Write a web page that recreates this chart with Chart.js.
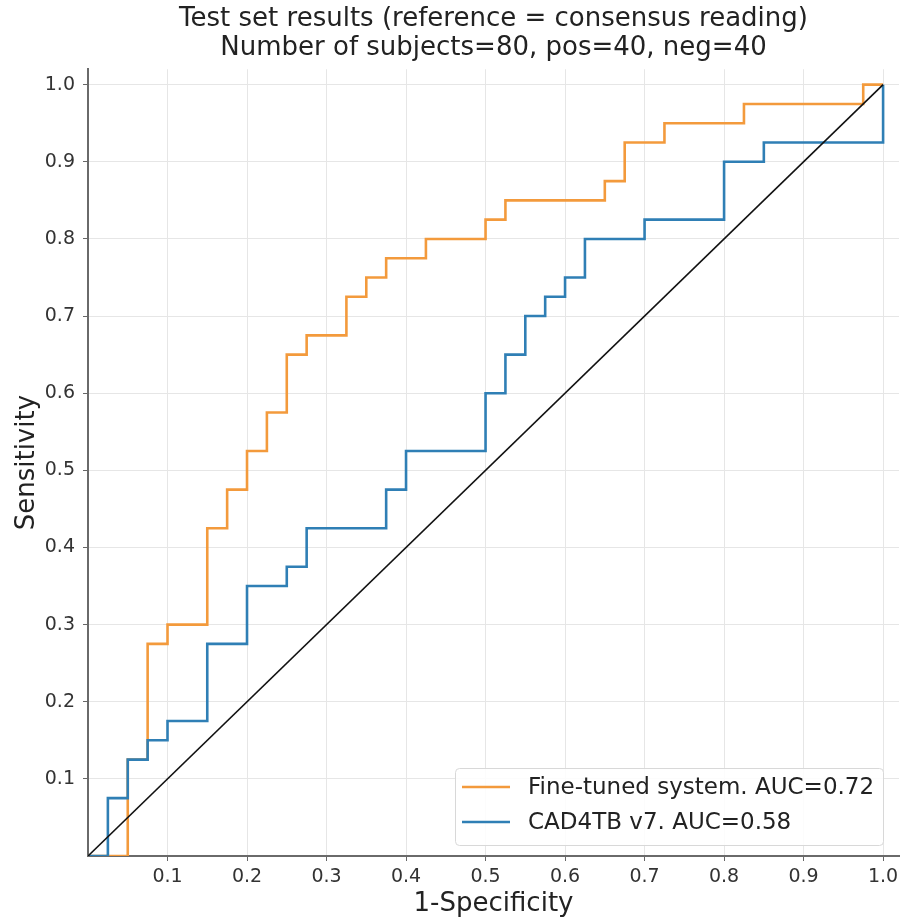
<!DOCTYPE html>
<html>
<head>
<meta charset="utf-8">
<script src="https://cdn.jsdelivr.net/npm/chart.js@4.4.1/dist/chart.umd.min.js"></script>
<style>
  html, body { margin: 0; padding: 0; background: #fff; }
  #wrap { width: 900px; height: 920px; }
</style>
</head>
<body>
<div id="wrap"><canvas id="roc" width="900" height="920"></canvas></div>
<script>
// ROC corners (1-specificity, sensitivity)
const fineFpr = [0, 0.05, 0.05, 0.075, 0.075, 0.1, 0.1, 0.15, 0.15, 0.175, 0.175, 0.2, 0.2, 0.225, 0.225, 0.25, 0.25, 0.275, 0.275, 0.325, 0.325, 0.35, 0.35, 0.375, 0.375, 0.425, 0.425, 0.5, 0.5, 0.525, 0.525, 0.65, 0.65, 0.675, 0.675, 0.725, 0.725, 0.825, 0.825, 0.975, 0.975, 1.0];
const fineTpr = [0, 0, 0.125, 0.125, 0.275, 0.275, 0.3, 0.3, 0.425, 0.425, 0.475, 0.475, 0.525, 0.525, 0.575, 0.575, 0.65, 0.65, 0.675, 0.675, 0.725, 0.725, 0.75, 0.75, 0.775, 0.775, 0.8, 0.8, 0.825, 0.825, 0.85, 0.85, 0.875, 0.875, 0.925, 0.925, 0.95, 0.95, 0.975, 0.975, 1.0, 1.0];

const cadFpr = [0, 0.025, 0.025, 0.05, 0.05, 0.075, 0.075, 0.1, 0.1, 0.15, 0.15, 0.2, 0.2, 0.25, 0.25, 0.275, 0.275, 0.375, 0.375, 0.4, 0.4, 0.5, 0.5, 0.525, 0.525, 0.55, 0.55, 0.575, 0.575, 0.6, 0.6, 0.625, 0.625, 0.7, 0.7, 0.8, 0.8, 0.85, 0.85, 1.0, 1.0];
const cadTpr = [0, 0, 0.075, 0.075, 0.125, 0.125, 0.15, 0.15, 0.175, 0.175, 0.275, 0.275, 0.35, 0.35, 0.375, 0.375, 0.425, 0.425, 0.475, 0.475, 0.525, 0.525, 0.6, 0.6, 0.65, 0.65, 0.7, 0.7, 0.725, 0.725, 0.75, 0.75, 0.8, 0.8, 0.825, 0.825, 0.9, 0.9, 0.925, 0.925, 1.0];

const chanceLine = [0, 1];
const tickValues = [0.1, 0.2, 0.3, 0.4, 0.5, 0.6, 0.7, 0.8, 0.9, 1.0];

const seriesLabels = ['Fine-tuned system. AUC=0.72', 'CAD4TB v7. AUC=0.58'];
const titleLines = ['Test set results (reference = consensus reading)', 'Number of subjects=80, pos=40, neg=40'];

const FONT = "'DejaVu Sans', sans-serif";
const toPoints = (xs, ys) => xs.map((x, i) => ({ x: x, y: ys[i] }));

// legend drawn inside the plot, lower right
const insideLegend = {
    id: 'insideLegend',
    afterDraw(chart) {
        const c = chart.ctx;
        const area = chart.chartArea;
        const items = chart.data.datasets.filter(d => d.inLegend);
        const w = 428, h = 77;
        const x0 = area.right - 16 - w;
        const y0 = area.bottom - 11 - h;
        c.save();
        c.fillStyle = 'rgba(255,255,255,0.85)';
        c.strokeStyle = '#d8d8d8';
        c.lineWidth = 1;
        c.beginPath();
        c.roundRect(x0 + 0.5, y0 + 0.5, w, h, 4);
        c.fill();
        c.stroke();
        c.font = '23px ' + FONT;
        c.textBaseline = 'middle';
        c.fillStyle = '#222';
        items.forEach((d, i) => {
            const yy = y0 + 19 + i * 35;
            c.strokeStyle = d.borderColor;
            c.lineWidth = 2.5;
            c.beginPath();
            c.moveTo(x0 + 7, yy);
            c.lineTo(x0 + 55, yy);
            c.stroke();
            c.fillText(d.label, x0 + 73, yy + 1);
        });
        c.restore();
    }
};

const axisCommon = (title, titlePad) => ({
    type: 'linear',
    min: 0,
    max: 1.02,
    afterBuildTicks: (s) => { s.ticks = tickValues.map(v => ({ value: v })); },
    ticks: {
        font: { family: FONT, size: 19 },
        color: '#333',
        padding: 5,
        callback: (v) => v.toFixed(1)
    },
    grid: {
        color: '#e6e6e6',
        lineWidth: 1,
        tickColor: '#666',
        tickLength: 5
    },
    border: { color: '#6a6a6a', width: 2 },
    title: {
        display: true,
        text: title,
        font: { family: FONT, size: 26 },
        color: '#222',
        padding: { top: titlePad, bottom: 0 }
    }
});

const xAxis = axisCommon('1-Specificity', 0);
xAxis.ticks.padding = 5;
xAxis.afterFit = (s) => { s.height = 64; s.paddingLeft = 0; s.paddingRight = 0; };
const yAxis = axisCommon('Sensitivity', 12);
yAxis.ticks.padding = 8;
yAxis.afterFit = (s) => { s.width = 88; s.paddingTop = 0; s.paddingBottom = 0; };

new Chart(document.getElementById('roc'), {
    type: 'line',
    data: {
        datasets: [
            {
                label: seriesLabels[0],
                inLegend: true,
                data: toPoints(fineFpr, fineTpr),
                borderColor: '#f39a3c',
                borderWidth: 2.6,
                pointRadius: 0,
                fill: false,
                order: 3
            },
            {
                label: seriesLabels[1],
                inLegend: true,
                data: toPoints(cadFpr, cadTpr),
                borderColor: '#2f7fb5',
                borderWidth: 2.6,
                pointRadius: 0,
                fill: false,
                order: 2
            },
            {
                label: 'chance',
                data: toPoints(chanceLine, chanceLine),
                borderColor: '#111',
                borderWidth: 1.6,
                pointRadius: 0,
                fill: false,
                order: 1
            }
        ]
    },
    options: {
        responsive: false,
        animation: false,
        layout: { padding: { left: 0, right: 1, top: 0, bottom: 0 } },
        plugins: {
            legend: { display: false },
            tooltip: { enabled: false },
            title: {
                display: true,
                text: titleLines,
                fullSize: false,
                color: '#222',
                font: { family: FONT, size: 26, weight: 'normal', lineHeight: 1.12 },
                padding: { top: 5, bottom: 6 }
            }
        },
        scales: { x: xAxis, y: yAxis }
    },
    plugins: [insideLegend]
});
</script>
</body>
</html>
